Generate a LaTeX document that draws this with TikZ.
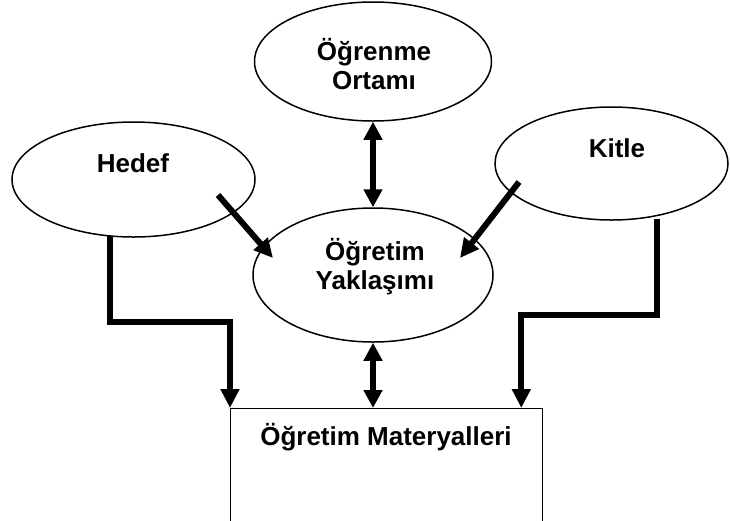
\documentclass[tikz,border=0pt]{standalone}
\usepackage{fontspec}
\setmainfont{Liberation Sans}
\usetikzlibrary{shapes.geometric,arrows.meta,calc}
\begin{document}
\begin{tikzpicture}[x=1pt,y=-1pt,
  ell/.style={draw, ellipse, line width=1.5pt, inner sep=0pt},
  lbl/.style={font=\fontsize{26}{29}\selectfont\bfseries, align=center, inner sep=0pt},
  conn/.style={line width=6pt, -{Triangle[length=19pt,width=18pt]}},
  dconn/.style={line width=6pt, {Triangle[length=18pt,width=18pt]}-{Triangle[length=18pt,width=18pt]}},
]
\useasboundingbox (0,0) rectangle (730,520);
% shapes
\node[ell, minimum width=237pt, minimum height=119pt] (ortam) at (373,61.5) {};
\node[ell, minimum width=243pt, minimum height=115pt] (hedef) at (133.5,179.5) {};
\node[ell, minimum width=233pt, minimum height=113pt] (kitle) at (611.5,163.5) {};
\node[ell, minimum width=240pt, minimum height=134pt] (yak) at (373,275) {};
\node[draw, line width=1.3pt, minimum width=312pt, minimum height=125pt, anchor=north west, inner sep=0pt] (mat) at (230,408) {};
% labels
\node[lbl] (ortamT) at (374,64) {Öğrenme\\Ortamı};
\node[lbl, anchor=base] (hedefT) at (133,172) {Hedef};
\node[lbl, anchor=base] (kitleT) at (617,157) {Kitle};
\node[lbl] (yakT) at (375,267) {Öğretim\\Yaklaşımı};
\node[lbl, anchor=base] (matT) at (386,445) {Öğretim Materyalleri};
% connector ends
\coordinate (h1) at (218,195);
\coordinate (h2) at (273,258);
\coordinate (k1) at (519,182);
\coordinate (k2) at (460,258);
\coordinate (hs) at (110,236);
\coordinate (ks) at (657,219);
\coordinate (mr) at ($(mat.north east)+(-22,0)$);
% connectors
\draw[conn] (h1) -- (h2);
\draw[conn] (k1) -- (k2);
\draw[dconn] (ortam.south) -- (yak.north);
\draw[dconn] (yak.south) -- (yak.south |- mat.north);
\draw[conn] (hs) -- ++(0,86) -| (mat.north west);
\draw[conn] (ks) -- ++(0,96) -| (mr);
\end{tikzpicture}
\end{document}
